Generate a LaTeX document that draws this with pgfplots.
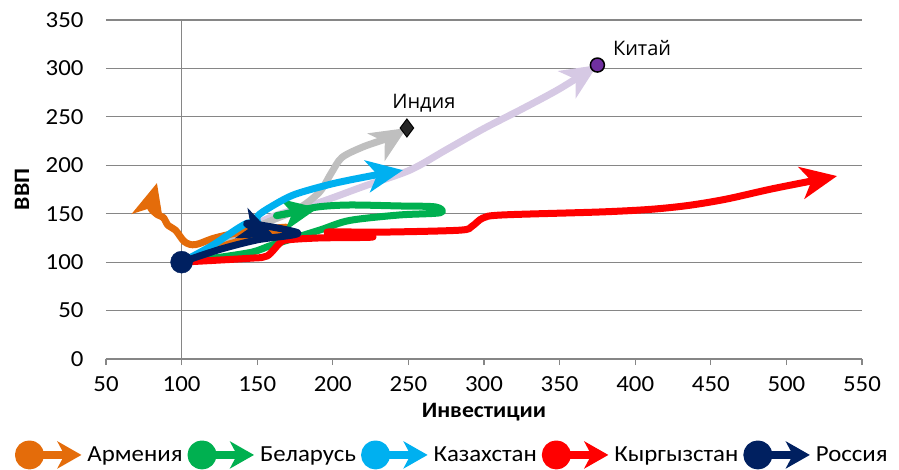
\documentclass[border=0pt]{standalone}
\usepackage{fontspec}
\setmainfont{Carlito}[FakeStretch=1.08]
\newfontfamily\annfont{Open Sans}
\usepackage{pgfplots}
\pgfplotsset{compat=1.18}
\usetikzlibrary{arrows.meta}
\definecolor{armc}{HTML}{E46C0A}
\definecolor{belc}{HTML}{00B050}
\definecolor{kazc}{HTML}{00B0F0}
\definecolor{kyrc}{HTML}{FF0000}
\definecolor{rusc}{HTML}{002060}
\definecolor{indc}{RGB}{191,191,191}
\definecolor{chnc}{RGB}{214,201,228}
\definecolor{chnm}{HTML}{7030A0}
\definecolor{gridgray}{RGB}{134,134,134}
\pgfplotsset{
  arrowline/.style={line width=7pt, line cap=round, line join=round, smooth,
    -{Stealth[length=36pt,width=32pt,inset=10pt]}},
  arrowleg/.style={legend image code/.code={
    \draw[line width=8pt, line cap=butt, arrows={-Stealth[length=24pt,width=27pt,inset=7pt]}] (0pt,0pt) -- (52pt,0pt);
    \fill[arrows=-] (0pt,0pt) circle (11pt);
  }},
}
\begin{document}
\begin{tikzpicture}
\useasboundingbox (-106pt,-110pt) rectangle (793pt,359pt);
\begin{axis}[
  at={(0pt,0pt)}, anchor=south west,
  scale only axis, width=756pt, height=339pt,
  xmin=50, xmax=550, ymin=0, ymax=350,
  xtick={50,100,...,550}, ytick={0,50,...,350},
  axis x line*=bottom, axis y line*=left,
  y axis line style={draw=none},
  x axis line style={draw=gridgray, line width=1.2pt},
  ymajorgrids, major grid style={draw=gridgray, line width=1.2pt},
  extra x ticks={100}, extra x tick labels={}, extra x tick style={grid=major},
  tick align=outside, major tick length=6pt,
  x tick style={draw=gridgray, line width=1.2pt},
  y tick style={draw=none},
  /pgf/number format/assume math mode=true,
  tick label style={font=\fontsize{23}{27}\selectfont},
  xticklabel style={yshift=-8pt},
  yticklabel style={xshift=-13pt},
  xlabel={Инвестиции}, ylabel={ВВП},
  label style={font=\fontsize{22}{26}\selectfont\bfseries},
  xlabel style={at={(axis description cs:0.5,-0.158)}, anchor=center},
  ylabel style={at={(axis description cs:-0.111,0.5)}, anchor=center},
  legend columns=-1,
  legend style={at={(axis description cs:0.458,-0.283)}, anchor=center,
    draw=none, fill=none, font=\fontsize{23}{27}\selectfont,
    /tikz/every even column/.append style={column sep=3pt}},
  legend cell align=left,
  clip=false,
]
% China (no legend)
\addplot[chnc, arrowline, forget plot] coordinates {
  (100,100) (120,115) (140,131) (160,147) (190,161) (220,178) (251,195)
  (275,216) (300,238) (325,258) (350,279) (375,303.5)};
% India (no legend)
\addplot[indc, arrowline, forget plot] coordinates {
  (100,100) (130,120) (155,140) (176,154) (191,172) (199,192) (206,208)
  (220,219) (238,229) (249,238.5)};
% Armenia
\addplot[armc, arrowline, arrowleg] coordinates {
  (100,100) (130,118) (150,126) (170,136) (140,131) (122,125) (109,118)
  (102,121) (96,133) (91,138) (88,146) (84,149) (79.5,156) (80.5,163) (83.7,181.7)};
\addlegendentry{Армения}
% Belarus
\addplot[belc, arrowline, arrowleg] coordinates {
  (100,100) (125,105) (147,110.5) (160,117.7) (191.5,133.2) (211,143)
  (244,148.7) (271,151) (268,157) (244,158) (211,159) (190,157)
  (172,151) (163,148) (190.2,155.9)};
\addlegendentry{Беларусь}
% Kazakhstan
\addplot[kazc, arrowline, arrowleg] coordinates {
  (100,100) (120,117) (143,140) (151,136) (150,147) (160,158) (175,170)
  (200,181) (225,189) (246.4,195)};
\addlegendentry{Казахстан}
% Kyrgyzstan
\addplot[kyrc, arrowline, arrowleg] coordinates {
  (100,100) (145,104) (156.5,106.3) (165,119.8) (170,123) (191.5,125)
  (226.6,126) (196.2,131) (233,131) (284,133) (292,137) (299.3,145.6)
  (312,148.7) (376.7,151.8) (410,154.5) (435,158.5) (460,165) (490,175.5)
  (520,184.8) (533.5,188.9)};
\addlegendentry{Кыргызстан}
% Russia
\addplot[rusc, arrowline, arrowleg] coordinates {
  (100,100) (125,113) (150,123) (177,130) (143,140) (161.8,126)};
\addlegendentry{Россия}
% markers
\addplot[only marks, mark=*, mark size=11pt, rusc, forget plot] coordinates {(100,100)};
\addplot[only marks, mark=diamond*, mark size=9pt, draw=black, fill=black!85, line width=1pt, forget plot] coordinates {(249,238.5)};
\addplot[only marks, mark=*, mark size=7pt, draw=black, fill=chnm, line width=1.5pt, forget plot] coordinates {(375,303.5)};
\node[anchor=west, font=\annfont\fontsize{20}{24}\selectfont] at (axis cs:383,321) {Китай};
\node[anchor=west, font=\annfont\fontsize{20}{24}\selectfont] at (axis cs:237,264) {Индия};
\end{axis}
\end{tikzpicture}
\end{document}
